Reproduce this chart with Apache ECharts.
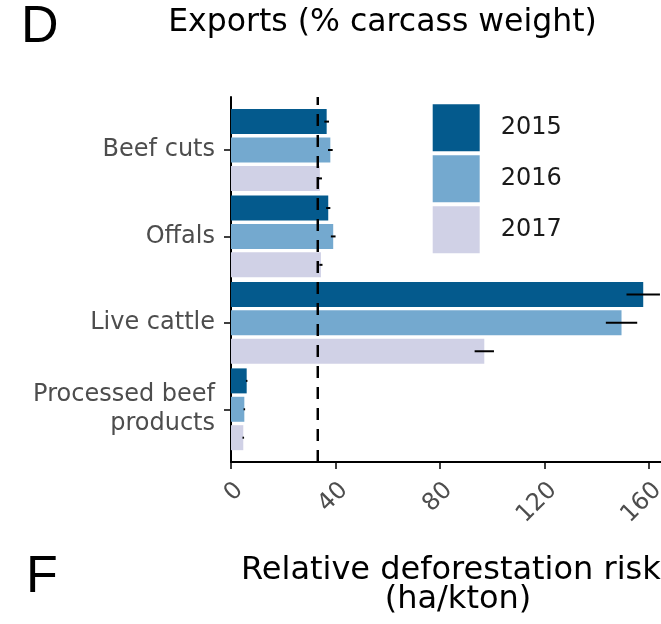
<!DOCTYPE html>
<html>
<head>
<meta charset="utf-8">
<script src="https://cdn.jsdelivr.net/npm/echarts@6/dist/echarts.min.js"></script>
<style>
  html, body { margin: 0; padding: 0; background: #fff; }
  #chart { width: 661px; height: 624px; }
</style>
</head>
<body>
<div id="chart"></div>
<script>
// values (% carcass weight)
const categories = ["Beef cuts", "Offals", "Live cattle", "Processed beef\nproducts"];
const years = ["2015", "2016", "2017"];
const exports2015 = [36.6, 37.2, 157.7, 6.0];
const exports2016 = [38.0, 39.1, 149.4, 5.1];
const exports2017 = [34.0, 34.4, 96.9, 4.7];
const err2015 = [0.9, 0.8, 6.4, 0.3];
const err2016 = [0.9, 0.9, 6.0, 0.3];
const err2017 = [0.8, 0.6, 3.7, 0.3];
const meanLine = 33.2;
const xTicks = [0, 40, 80, 120, 160];

const colors = ["#045a8d", "#74a9cf", "#d0d1e6"];
const FONT = "DejaVu Sans";
const BAR_W = 25;
const BAR_GAP = 3.4;
const X_MAX = 164.5;

const values = [exports2015, exports2016, exports2017];
const errs = [err2015, err2016, err2017];

const errData = [];
values.forEach((vals, yi) => {
  vals.forEach((v, ci) => errData.push([v, ci, errs[yi][ci], yi]));
});

const chart = echarts.init(document.getElementById("chart"));

chart.setOption({
  animation: false,
  color: colors,
  grid: [
    { left: 231, right: 0, top: 106.8, height: 345.7, outerBoundsMode: "none", containLabel: false },
    { left: 231, right: 0, top: 97, bottom: 162, outerBoundsMode: "none", containLabel: false }
  ],
  xAxis: [
    { gridIndex: 0, type: "value", min: 0, max: X_MAX, show: false },
    {
      gridIndex: 1, type: "value", min: 0, max: X_MAX, interval: 40,
      axisLine: { show: true, lineStyle: { color: "#000", width: 2 } },
      axisTick: { show: true, length: 7, lineStyle: { color: "#000", width: 1.5 } },
      splitLine: { show: false },
      axisLabel: {
        rotate: 45, align: "right", verticalAlign: "top", margin: 16,
        showMaxLabel: false, hideOverlap: false,
        fontFamily: FONT, fontSize: 24, color: "#4d4d4d",
        formatter: v => (xTicks.indexOf(v) >= 0 ? String(v) : "")
      }
    }
  ],
  yAxis: [
    {
      gridIndex: 0, type: "category", data: categories, inverse: true,
      axisLine: { show: false },
      axisTick: { show: true, alignWithLabel: true, length: 7, lineStyle: { color: "#000", width: 1.5 } },
      axisLabel: { margin: 16, fontFamily: FONT, fontSize: 24, color: "#4d4d4d", lineHeight: 29 }
    },
    {
      gridIndex: 1, type: "value", min: 0, max: 1,
      axisLine: { show: true, lineStyle: { color: "#000", width: 2 } },
      axisTick: { show: false }, axisLabel: { show: false }, splitLine: { show: false }
    }
  ],
  legend: {
    data: years, orient: "vertical", left: 432.7, top: 104.3, padding: 0,
    itemWidth: 47, itemHeight: 47, itemGap: 4, icon: "rect",
    selectedMode: false,
    textStyle: { fontFamily: FONT, fontSize: 24, color: "#1a1a1a", padding: [0, 0, 0, 16] }
  },
  graphic: [
    { type: "text", x: 21, y: 28, style: { text: "D", font: "52px 'Liberation Sans'", fill: "#000", textAlign: "left", textVerticalAlign: "middle" } },
    { type: "text", x: 382.5, y: 23, style: { text: "Exports (% carcass weight)", font: "31.5px '" + FONT + "'", fill: "#000", textAlign: "center", textVerticalAlign: "middle" } },
    { type: "text", x: 26, y: 577.5, style: { text: "F", font: "52px 'Liberation Sans'", fill: "#000", textAlign: "left", textVerticalAlign: "middle" } },
    { type: "text", x: 241, y: 571, style: { text: "Relative deforestation risk", font: "32px '" + FONT + "'", fill: "#000", textAlign: "left", textVerticalAlign: "middle" } },
    { type: "text", x: 458, y: 600, style: { text: "(ha/kton)", font: "32px '" + FONT + "'", fill: "#000", textAlign: "center", textVerticalAlign: "middle" } }
  ],
  series: [
    ...years.map((y, i) => ({
      name: y, type: "bar", xAxisIndex: 0, yAxisIndex: 0,
      data: values[i], barWidth: BAR_W, barGap: (BAR_GAP / BAR_W * 100).toFixed(1) + "%",
      itemStyle: { color: colors[i] }
    })),
    {
      name: "err", type: "custom", xAxisIndex: 0, yAxisIndex: 0, z: 5,
      data: errData,
      renderItem: (params, api) => {
        const mean = api.value(0), cat = api.value(1), err = api.value(2), yi = api.value(3);
        const c = api.coord([mean, cat]);
        const off = (yi - 1) * (BAR_W + BAR_GAP);
        const a = api.coord([mean - err, cat]);
        const b = api.coord([mean + err, cat]);
        return {
          type: "line",
          shape: { x1: a[0], y1: c[1] + off, x2: b[0], y2: c[1] + off },
          style: { stroke: "#000", lineWidth: 2 }
        };
      }
    },
    {
      name: "mean", type: "line", xAxisIndex: 1, yAxisIndex: 1, z: 6,
      data: [[meanLine, 0], [meanLine, 1]], symbol: "none",
      lineStyle: { color: "#000", width: 2.5, type: [12, 9] }
    }
  ]
});
</script>
</body>
</html>
